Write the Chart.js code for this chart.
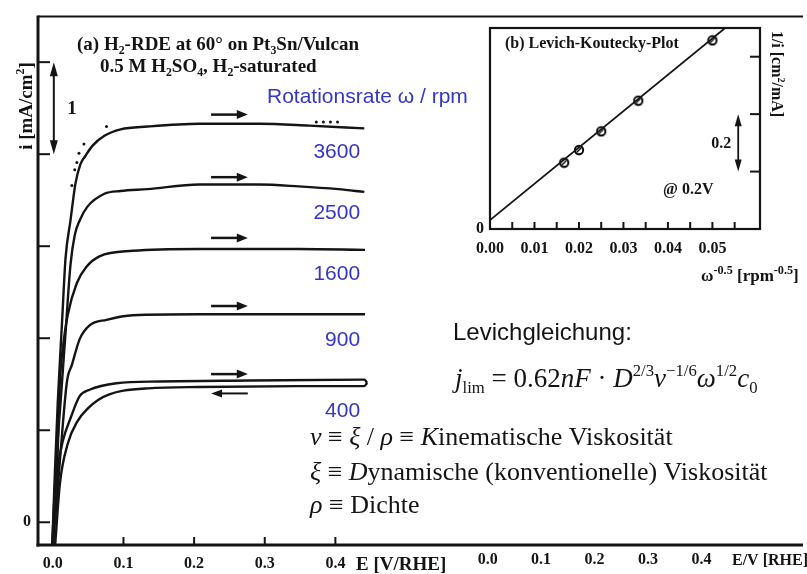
<!DOCTYPE html>
<html><head><meta charset="utf-8">
<script src="https://cdn.jsdelivr.net/npm/chart.js@4/dist/chart.umd.min.js"></script>
<style>
html,body{margin:0;padding:0;background:#fff;}
#wrap{position:relative;width:807px;height:574px;overflow:hidden;background:#fff;}
#main{position:absolute;left:0;top:0;}
#inset{position:absolute;left:440px;top:0;}
</style></head><body>
<div id="wrap"><canvas id="main" width="807" height="574"></canvas><canvas id="inset" width="367" height="290"></canvas></div>
<script>
// ---------------- data ----------------
const rateLabels = ['3600', '2500', '1600', '900', '400'];

// E [V/RHE] and i [mA/cm²] along each sweep
const E_3600 = [-0.001, 0.003, 0.007, 0.013, 0.018, 0.025, 0.032, 0.039, 0.046, 0.056, 0.073, 0.096, 0.134, 0.207, 0.292, 0.363, 0.441];
const I_3600 = [-0.28, 0.56, 1.31, 2.17, 2.87, 3.28, 3.68, 3.89, 3.98, 4.09, 4.20, 4.27, 4.30, 4.33, 4.33, 4.31, 4.28];
const E_2500 = [-0.001, 0.004, 0.011, 0.018, 0.025, 0.031, 0.038, 0.049, 0.073, 0.096, 0.134, 0.207, 0.292, 0.348, 0.404, 0.441];
const I_2500 = [-0.28, 0.56, 1.31, 2.06, 2.80, 3.12, 3.28, 3.43, 3.57, 3.60, 3.62, 3.67, 3.67, 3.65, 3.62, 3.59];
const E_1600 = [-0.001, 0.006, 0.010, 0.014, 0.021, 0.034, 0.048, 0.066, 0.113, 0.207, 0.348, 0.442];
const I_1600 = [-0.28, 0.56, 1.53, 1.88, 2.25, 2.60, 2.78, 2.89, 2.95, 2.97, 2.97, 2.96];
const E_900 = [0.000, 0.010, 0.020, 0.027, 0.038, 0.052, 0.076, 0.113, 0.207, 0.442];
const I_900 = [-0.28, 0.67, 1.53, 1.71, 1.99, 2.14, 2.20, 2.25, 2.26, 2.26];
// 400 rpm: forward sweep and backward sweep (both listed with rising E, meeting at the turn)
const E_400f = [0.000, 0.004, 0.007, 0.014, 0.025, 0.038, 0.052, 0.090, 0.151, 0.278, 0.441, 0.445];
const I_400f = [-0.28, 0.34, 0.59, 0.88, 1.13, 1.37, 1.44, 1.51, 1.53, 1.54, 1.55, 1.515];
const E_400b = [0.003, 0.010, 0.021, 0.035, 0.050, 0.064, 0.080, 0.100, 0.135, 0.207, 0.348, 0.441, 0.445];
const I_400b = [-0.28, 0.42, 0.85, 1.10, 1.24, 1.33, 1.39, 1.43, 1.455, 1.47, 1.48, 1.48, 1.515];
// dotted trace near the 3600 rpm curve
const E_dots = [0.027, 0.031, 0.034, 0.037, 0.044, 0.076, 0.373, 0.383, 0.393, 0.403];
const I_dots = [3.66, 3.83, 3.91, 4.01, 4.11, 4.30, 4.35, 4.35, 4.35, 4.35];

// sweep-direction arrow levels (i) for each rate, and the backward arrow of 400 rpm
const arrowLevels = [4.43, 3.75, 3.09, 2.35, 1.61];
const backArrowLevel = 1.40;
// rate label levels (i)
const rateLabelLevels = [4.04, 3.38, 2.72, 2.00, 1.23];

// tick values
const xTicksMain = [0.0, 0.1, 0.2, 0.3, 0.4];
const yTicksMain = [0, 1, 2, 3, 4, 5];
const xTicksSecond = [0.0, 0.1, 0.2, 0.3, 0.4];

// Levich-Koutecky inset
const lkX = [0.01667, 0.02, 0.025, 0.03333, 0.05];   // ω^-0.5
const lkY = [0.231, 0.275, 0.340, 0.447, 0.657];      // 1/i
const lkFitX = [0, 0.0535];
const lkFitY = [0.031, 0.708];
const lkXTicks = [0, 0.005, 0.01, 0.015, 0.02, 0.025, 0.03, 0.035, 0.04, 0.045, 0.05, 0.055];
const lkYTicks = [0, 0.2, 0.4, 0.6];

// ---------------- styling helpers ----------------
const INK = '#141414';
const BLUE = '#3535c8';
const SERIF = '"Liberation Serif", "Times New Roman", serif';
const SANS = '"Liberation Sans", Arial, sans-serif';

function pts(E, I) { return E.map((e, k) => ({ x: e, y: I[k] })); }

function drawRich(ctx, segs, x, y, o) {
  const size = o.size, fam = o.family, wt = o.weight || 'normal';
  const parts = segs.map(s => {
    const t = s[0], st = (s[1] || '').split(' ');
    const sub = st.includes('sub'), sup = st.includes('sup'), it = st.includes('it');
    const sz = (sub || sup) ? size * (o.scriptScale || 0.62) : size;
    const font = (it ? 'italic ' : '') + wt + ' ' + sz.toFixed(1) + 'px ' + fam;
    ctx.font = font;
    return { t, font, w: ctx.measureText(t).width, dy: sub ? size * 0.22 : (sup ? -size * 0.4 : 0) };
  });
  const total = parts.reduce((a, p) => a + p.w, 0);
  let cx = o.align === 'center' ? x - total / 2 : (o.align === 'right' ? x - total : x);
  ctx.textAlign = 'left'; ctx.textBaseline = 'alphabetic';
  ctx.fillStyle = o.color || INK;
  parts.forEach(p => { ctx.font = p.font; ctx.fillText(p.t, cx, y + p.dy); cx += p.w; });
}

function seg(ctx, x0, y0, x1, y1) { ctx.beginPath(); ctx.moveTo(x0, y0); ctx.lineTo(x1, y1); ctx.stroke(); }

function arrowHead(ctx, xt, yt, dx, dy, len, hw) {
  const n = Math.hypot(dx, dy), ux = dx / n, uy = dy / n;
  const bx = xt - ux * len, by = yt - uy * len;
  ctx.beginPath();
  ctx.moveTo(xt, yt);
  ctx.lineTo(bx - uy * hw, by + ux * hw);
  ctx.lineTo(bx + uy * hw, by - ux * hw);
  ctx.closePath(); ctx.fill();
}

function arrow(ctx, x0, y0, x1, y1, lw, len, hw, both) {
  const n = Math.hypot(x1 - x0, y1 - y0), ux = (x1 - x0) / n, uy = (y1 - y0) / n;
  ctx.lineWidth = lw;
  seg(ctx, both ? x0 + ux * len * 0.8 : x0, both ? y0 + uy * len * 0.8 : y0, x1 - ux * len * 0.8, y1 - uy * len * 0.8);
  arrowHead(ctx, x1, y1, ux, uy, len, hw);
  if (both) arrowHead(ctx, x0, y0, -ux, -uy, len, hw);
}

// ---------------- main chart ----------------
const mainDeco = {
  id: 'mainDeco',
  afterDraw(chart) {
    const { ctx, chartArea: a, scales: { x, y, x2 } } = chart;
    ctx.save();
    ctx.strokeStyle = INK; ctx.fillStyle = INK; ctx.lineCap = 'butt';
    // frame lines
    ctx.lineWidth = 3;
    seg(ctx, a.left, a.top - 1, a.left, a.bottom + 1.5);
    seg(ctx, a.left - 1.5, a.bottom, a.right, a.bottom);
    ctx.lineWidth = 2;
    seg(ctx, a.left, a.top, a.right, a.top);
    // inward ticks
    ctx.lineWidth = 2;
    yTicksMain.forEach(v => { const py = y.getPixelForValue(v); seg(ctx, a.left, py, a.left + 12, py); });
    xTicksMain.forEach(v => { const px = x.getPixelForValue(v); seg(ctx, px, a.bottom, px, a.bottom - 8); });

    // sweep arrows
    const ax0 = x.getPixelForValue(0.224), ax1 = x.getPixelForValue(0.276);
    arrowLevels.forEach(v => { const py = y.getPixelForValue(v); arrow(ctx, ax0, py, ax1, py, 2.5, 11, 4.5, false); });
    const pb = y.getPixelForValue(backArrowLevel);
    arrow(ctx, ax1, pb, ax0, pb, 2, 11, 4, false);

    // scale bar "1"
    const sx = x.getPixelForValue(0.0014);
    arrow(ctx, sx, y.getPixelForValue(5), sx, y.getPixelForValue(4), 2, 14, 4, true);
    drawRich(ctx, [['1']], x.getPixelForValue(0.027), y.getPixelForValue(4.5) + 6, { size: 19, family: SERIF, weight: 'bold', align: 'center' });

    // rate labels
    const lx = x.getPixelForValue(0.435);
    rateLabels.forEach((t, k) => {
      drawRich(ctx, [[t]], lx, y.getPixelForValue(rateLabelLevels[k]) + 8, { size: 21, family: SANS, align: 'right', color: BLUE });
    });
    drawRich(ctx, [['Rotationsrate ω / rpm']], 267, 103, { size: 21, family: SANS, color: BLUE });

    // title
    drawRich(ctx, [['(a) H'], ['2', 'sub'], ['-RDE at 60° on Pt'], ['3', 'sub'], ['Sn/Vulcan']], 77, 50, { size: 19, family: SERIF, weight: 'bold' });
    drawRich(ctx, [['0.5 M H'], ['2', 'sub'], ['SO'], ['4', 'sub'], [', H'], ['2', 'sub'], ['-saturated']], 100, 72, { size: 19, family: SERIF, weight: 'bold' });

    // y title
    ctx.save();
    ctx.translate(26, 106); ctx.rotate(-Math.PI / 2);
    drawRich(ctx, [['i [mA/cm'], ['2', 'sup'], [']']], 0, 6, { size: 19, family: SERIF, weight: 'bold', align: 'center' });
    ctx.restore();

    // x title
    drawRich(ctx, [['E [V/RHE]']], 356, 570, { size: 19, family: SERIF, weight: 'bold' });

    // second set of bottom labels
    xTicksSecond.forEach(v => {
      drawRich(ctx, [[v.toFixed(1)]], x2.getPixelForValue(v), 564, { size: 16, family: SERIF, weight: 'bold', align: 'center' });
    });
    drawRich(ctx, [['E/V [RHE]']], 732, 565, { size: 16, family: SERIF, weight: 'bold' });

    // Levich text
    drawRich(ctx, [['Levichgleichung:']], 453, 340, { size: 24, family: SANS });
    drawRich(ctx, [['j', 'it'], ['lim', 'sub'], [' = 0.62'], ['nF', 'it'], [' · '], ['D', 'it'], ['2/3', 'sup'], ['ν', 'it'], ['−1/6', 'sup'], ['ω', 'it'], ['1/2', 'sup'], ['c', 'it'], ['0', 'sub']], 455, 387, { size: 27, family: SERIF });
    drawRich(ctx, [['ν', 'it'], [' ≡ '], ['ξ', 'it'], [' / '], ['ρ', 'it'], [' ≡ '], ['K', 'it'], ['inematische Viskosität']], 310, 445, { size: 26, family: SERIF });
    drawRich(ctx, [['ξ', 'it'], [' ≡ '], ['D', 'it'], ['ynamische (konventionelle) Viskosität']], 310, 480, { size: 26, family: SERIF });
    drawRich(ctx, [['ρ', 'it'], [' ≡ Dichte']], 310, 513, { size: 26, family: SERIF });
    ctx.restore();
  }
};

const curveStyle = { borderColor: INK, borderWidth: 2.4, pointRadius: 0, cubicInterpolationMode: 'monotone', fill: false };
new Chart(document.getElementById('main'), {
  type: 'line',
  data: {
    datasets: [
      Object.assign({ label: '3600', data: pts(E_3600, I_3600) }, curveStyle),
      Object.assign({ label: '2500', data: pts(E_2500, I_2500) }, curveStyle),
      Object.assign({ label: '1600', data: pts(E_1600, I_1600) }, curveStyle),
      Object.assign({ label: '900', data: pts(E_900, I_900) }, curveStyle),
      Object.assign({ label: '400 forward', data: pts(E_400f, I_400f) }, curveStyle),
      Object.assign({ label: '400 backward', data: pts(E_400b, I_400b) }, curveStyle),
      { label: 'dots', data: pts(E_dots, I_dots), showLine: false, pointRadius: 1.5, pointBackgroundColor: INK, pointBorderWidth: 0 }
    ]
  },
  options: {
    responsive: false, animation: false, devicePixelRatio: 1,
    layout: { padding: { left: 0, right: 0, top: 11, bottom: 0 } },
    plugins: { legend: { display: false }, tooltip: { enabled: false } },
    scales: {
      x: {
        type: 'linear', min: -0.021, max: 1.062,
        grid: { display: false, drawTicks: false }, border: { display: false },
        afterBuildTicks: s => { s.ticks = xTicksMain.map(v => ({ value: v })); },
        afterFit: s => { s.height = 29; },
        ticks: { autoSkip: false, maxRotation: 0, padding: 9, color: INK, font: { family: SERIF, weight: 'bold', size: 16 }, callback: v => Number(v).toFixed(1) }
      },
      x2: { type: 'linear', display: false, min: -0.8409, max: 0.5898 },
      y: {
        type: 'linear', min: -0.247, max: 5.495,
        grid: { display: false, drawTicks: false }, border: { display: false },
        afterBuildTicks: s => { s.ticks = yTicksMain.map(v => ({ value: v })); },
        afterFit: s => { s.width = 38; },
        ticks: { padding: 7, color: INK, font: { family: SERIF, weight: 'bold', size: 16 }, callback: v => (v === 0 ? '0' : '') }
      }
    }
  },
  plugins: [mainDeco]
});

// ---------------- inset chart ----------------
function makeMarker() {
  const c = document.createElement('canvas'); c.width = 12; c.height = 12;
  const g = c.getContext('2d');
  g.fillStyle = '#fff'; g.strokeStyle = '#000'; g.lineWidth = 1.9;
  g.beginPath(); g.arc(6, 6, 4.2, 0, Math.PI * 2); g.fill(); g.stroke();
  g.lineWidth = 1.4; g.beginPath(); g.moveTo(3.5, 8.5); g.lineTo(8.5, 3.5); g.stroke();
  return c;
}

const insetDeco = {
  id: 'insetDeco',
  afterDraw(chart) {
    const { ctx, chartArea: a, scales: { x, y } } = chart;
    ctx.save();
    ctx.strokeStyle = INK; ctx.fillStyle = INK;
    ctx.lineWidth = 2.2;
    ctx.strokeRect(a.left, a.top, a.right - a.left, a.bottom - a.top);
    ctx.lineWidth = 2;
    lkYTicks.forEach(v => { if (v > 0) { const py = y.getPixelForValue(v); seg(ctx, a.right, py, a.right - 10, py); } });
    lkXTicks.forEach(v => { if (v > 0) { const px = x.getPixelForValue(v); seg(ctx, px, a.bottom, px, a.bottom - 7); } });
    // scale bar 0.2
    const bx = x.getPixelForValue(0.0558);
    arrow(ctx, bx, y.getPixelForValue(0.4), bx, y.getPixelForValue(0.2), 1.8, 12, 3.5, true);
    drawRich(ctx, [['0.2']], bx - 7, y.getPixelForValue(0.3) + 5, { size: 16, family: SERIF, weight: 'bold', align: 'right' });
    drawRich(ctx, [['@ 0.2V']], 223, 194, { size: 16, family: SERIF, weight: 'bold' });
    drawRich(ctx, [['(b) Levich-Koutecky-Plot']], 65, 48, { size: 16, family: SERIF, weight: 'bold' });
    // right title
    ctx.save();
    ctx.translate(337, 74); ctx.rotate(Math.PI / 2);
    drawRich(ctx, [['1/i [cm'], ['2', 'sup'], ['/mA]']], 0, 5, { size: 16, family: SERIF, weight: 'bold', align: 'center' });
    ctx.restore();
    // x title
    drawRich(ctx, [['ω'], ['-0.5', 'sup'], [' [rpm'], ['-0.5', 'sup'], [']']], 261, 281, { size: 17, family: SERIF, weight: 'bold', scriptScale: 0.72 });
    ctx.restore();
  }
};

new Chart(document.getElementById('inset'), {
  type: 'line',
  data: {
    datasets: [
      { label: 'fit', data: pts(lkFitX, lkFitY), borderColor: INK, borderWidth: 1.8, pointRadius: 0, tension: 0 },
      { label: 'LK', data: pts(lkX, lkY), showLine: false, pointStyle: makeMarker(), pointRadius: 6 }
    ]
  },
  options: {
    responsive: false, animation: false, devicePixelRatio: 1,
    layout: { padding: { left: 0, right: 47, top: 28, bottom: 0 } },
    plugins: { legend: { display: false }, tooltip: { enabled: false } },
    scales: {
      x: {
        type: 'linear', min: 0, max: 0.0607,
        grid: { display: false, drawTicks: false }, border: { display: false },
        afterBuildTicks: s => { s.ticks = lkXTicks.map(v => ({ value: v })); },
        afterFit: s => { s.height = 61; },
        ticks: { autoSkip: false, maxRotation: 0, padding: 10, color: INK, font: { family: SERIF, weight: 'bold', size: 16 },
          callback: v => (Math.round(v * 1000) % 10 === 0 ? Number(v).toFixed(2) : '') }
      },
      y: {
        type: 'linear', min: 0, max: 0.70,
        grid: { display: false, drawTicks: false }, border: { display: false },
        afterBuildTicks: s => { s.ticks = lkYTicks.map(v => ({ value: v })); },
        afterFit: s => { s.width = 50; },
        ticks: { padding: 6, color: INK, font: { family: SERIF, weight: 'bold', size: 16 }, callback: v => (v === 0 ? '0' : '') }
      }
    }
  },
  plugins: [insetDeco]
});
</script>
</body></html>
